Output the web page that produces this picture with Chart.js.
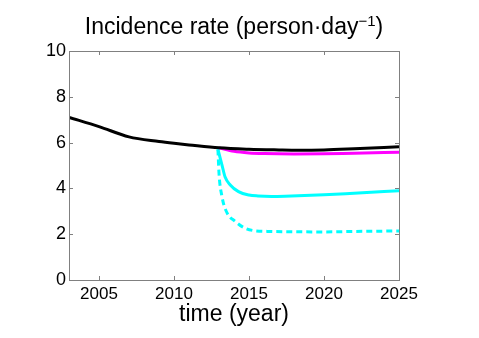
<!DOCTYPE html>
<html>
<head>
<meta charset="utf-8">
<script src="https://cdn.jsdelivr.net/npm/chart.js@4"></script>
<style>
  html, body { margin: 0; padding: 0; background: #fff; }
  #wrap { width: 479px; height: 338px; }
</style>
</head>
<body>
<div id="wrap"><canvas id="chart" width="479" height="338"></canvas></div>
<script>
// values
const baseYears = [2003, 2005, 2007, 2009, 2010, 2011, 2013, 2015, 2017, 2018, 2020, 2022, 2025];
const baseRate = [7.1, 6.7, 6.25, 6.05, 5.97, 5.9, 5.77, 5.71, 5.68, 5.67, 5.68, 5.73, 5.82];

const magYears = [2013, 2014, 2015, 2016, 2018, 2020, 2022, 2025];
const magRate = [5.77, 5.62, 5.55, 5.52, 5.5, 5.51, 5.54, 5.58];

const cyanYears = [2012.93, 2013.2, 2013.4, 2013.75, 2014.3, 2015, 2015.6, 2016.5, 2017.4, 2020, 2022, 2025];
const cyanRate = [5.7, 5.02, 4.51, 4.15, 3.86, 3.71, 3.67, 3.65, 3.66, 3.72, 3.79, 3.9];

const dotYears = [2012.93, 2013.0, 2013.2, 2013.5, 2014.1, 2014.75, 2015.4, 2016.5, 2017.4, 2020, 2022, 2025];
const dotRate = [5.7, 4.66, 3.64, 2.98, 2.55, 2.26, 2.15, 2.12, 2.11, 2.1, 2.12, 2.14];

const xTicks = [2005, 2010, 2015, 2020, 2025];
const yTicks = [0, 2, 4, 6, 8, 10];

const FONT = "'Liberation Sans', Arial, Helvetica, sans-serif";

function pts(xs, ys) {
    return xs.map((x, i) => ({ x: x, y: ys[i] }));
}

function line(data, color, dash) {
    return {
        data: data,
        borderColor: color,
        borderWidth: 3,
        borderDash: dash || [],
        pointRadius: 0,
        fill: false,
        cubicInterpolationMode: 'monotone'
    };
}

// box round the plot, ticks pointing inwards on all four sides, and the title
const frame = {
    id: 'frame',
    afterDraw(chart) {
        const c = chart.ctx, a = chart.chartArea;
        const sx = chart.scales.x, sy = chart.scales.y;
        c.save();
        c.strokeStyle = '#808080';
        c.lineWidth = 1;
        c.strokeRect(a.left + 0.5, a.top + 0.5, a.right - a.left, a.bottom - a.top);
        c.beginPath();
        xTicks.forEach(v => {
            const px = Math.round(sx.getPixelForValue(v)) + 0.5;
            c.moveTo(px, a.bottom); c.lineTo(px, a.bottom - 4);
            c.moveTo(px, a.top); c.lineTo(px, a.top + 4);
        });
        yTicks.forEach(v => {
            const py = Math.round(sy.getPixelForValue(v)) + 0.5;
            c.moveTo(a.left, py); c.lineTo(a.left + 4, py);
            c.moveTo(a.right, py); c.lineTo(a.right - 4, py);
        });
        c.stroke();

        c.fillStyle = '#000';
        c.textBaseline = 'alphabetic';
        const main = 'Incidence rate (person\u00b7day';
        c.font = '23px ' + FONT;
        const w1 = c.measureText(main).width;
        const w3 = c.measureText(')').width;
        c.font = '15px ' + FONT;
        const w2 = c.measureText('\u22121').width;
        const cx = (a.left + a.right) / 2;
        let x = cx - (w1 + w2 + w3) / 2;
        c.textAlign = 'left';
        c.font = '23px ' + FONT;
        c.fillText(main, x, 34);
        x += w1;
        c.font = '15px ' + FONT;
        c.fillText('\u22121', x, 26);
        x += w2;
        c.font = '23px ' + FONT;
        c.fillText(')', x, 34);
        c.restore();
    }
};

new Chart(document.getElementById('chart'), {
    type: 'line',
    data: {
        datasets: [
            line(pts(baseYears, baseRate), '#000000'),
            line(pts(magYears, magRate), '#ff00ff'),
            line(pts(cyanYears, cyanRate), '#00ffff'),
            line(pts(dotYears, dotRate), '#00ffff', [6, 4])
        ]
    },
    options: {
        responsive: false,
        animation: false,
        layout: { padding: { left: 0, right: 80, top: 51, bottom: 10 } },
        plugins: { legend: { display: false }, tooltip: { enabled: false } },
        scales: {
            x: {
                type: 'linear',
                min: 2003,
                max: 2025,
                afterBuildTicks: s => { s.ticks = xTicks.map(v => ({ value: v })); },
                afterFit: s => { s.height = 48; },
                grid: { display: false, drawTicks: false },
                border: { display: false },
                ticks: {
                    color: '#000',
                    font: { family: FONT, size: 17 },
                    padding: 4,
                    maxRotation: 0,
                    callback: v => String(v)
                },
                title: {
                    display: true,
                    text: 'time (year)',
                    color: '#000',
                    font: { family: FONT, size: 23 },
                    padding: { top: 0, bottom: 0 }
                }
            },
            y: {
                min: 0,
                max: 10,
                afterBuildTicks: s => { s.ticks = yTicks.map(v => ({ value: v })); },
                afterFit: s => { s.width = 69; },
                grid: { display: false, drawTicks: false },
                border: { display: false },
                ticks: {
                    color: '#000',
                    font: { family: FONT, size: 18 },
                    padding: 3
                }
            }
        }
    },
    plugins: [frame]
});
</script>
</body>
</html>
